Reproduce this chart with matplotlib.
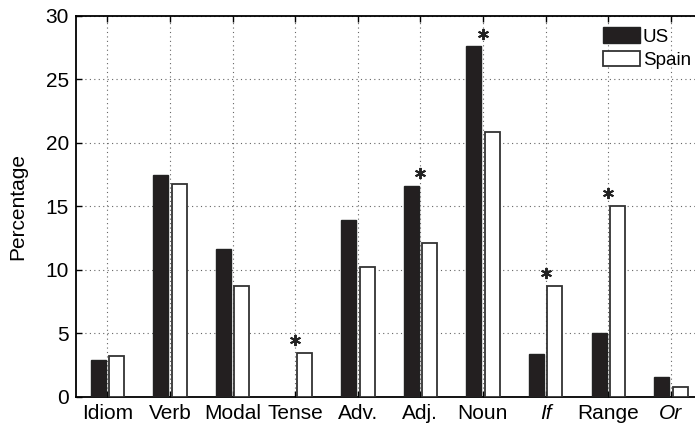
import matplotlib.pyplot as plt
import numpy as np

plt.rcParams['font.family'] = ['Liberation Sans', 'DejaVu Sans']

categories = ['Idiom', 'Verb', 'Modal', 'Tense', 'Adv.', 'Adj.', 'Noun', 'If', 'Range', 'Or']
italic = ['If', 'Or']
us = [2.9, 17.5, 11.65, 0.0, 13.95, 16.6, 27.6, 3.4, 5.0, 1.6]
spain = [3.2, 16.8, 8.75, 3.45, 10.25, 12.15, 20.9, 8.75, 15.05, 0.75]
significant = ['Tense', 'Adj.', 'Noun', 'If', 'Range']

fs = 15
fig = plt.figure(figsize=(6.95, 4.25), dpi=100)
ax = fig.add_axes([0.1094, 0.0659, 0.9007, 0.8965])

x = np.arange(1, len(categories) + 1)
w = 0.24
ax.bar(x - 0.145, us, w, color='#231f20', edgecolor='#222222', linewidth=1, label='US', zorder=3)
ax.bar(x + 0.15, spain, w, color='white', edgecolor='#333333', linewidth=1.3, label='Spain', zorder=3)

# significance asterisks above the taller bar
for i, c in enumerate(categories):
    if c in significant:
        top = max(us[i], spain[i])
        ax.plot(x[i], top + 1.0, marker=(6, 2, 0), markersize=8, color='#222222',
                markeredgewidth=1.4, zorder=4)

ax.set_xlim(0.5, 10.5)
ax.set_ylim(0, 30)
ax.set_xticks(x)
ax.set_xticklabels(categories, fontsize=fs)
for lbl in ax.get_xticklabels():
    if lbl.get_text() in italic:
        lbl.set_style('italic')
ax.set_yticks(range(0, 31, 5))
ax.tick_params(axis='y', labelsize=fs)
ax.tick_params(direction='in', top=True, right=False, length=4, width=1, pad=5)
ax.set_ylabel('Percentage', fontsize=fs, labelpad=13)

ax.grid(True, linestyle=(0, (1, 3)), color='#666666', linewidth=0.8, zorder=0)
for s in ax.spines.values():
    s.set_linewidth(1.3)

ax.legend(loc='upper left', bbox_to_anchor=(0.842, 0.97), frameon=False, fontsize=13.5,
          handlelength=1.97, handleheight=0.88, handletextpad=0.15, labelspacing=0.27,
          borderpad=0, borderaxespad=0)

fig.savefig('out.png', dpi=100)
